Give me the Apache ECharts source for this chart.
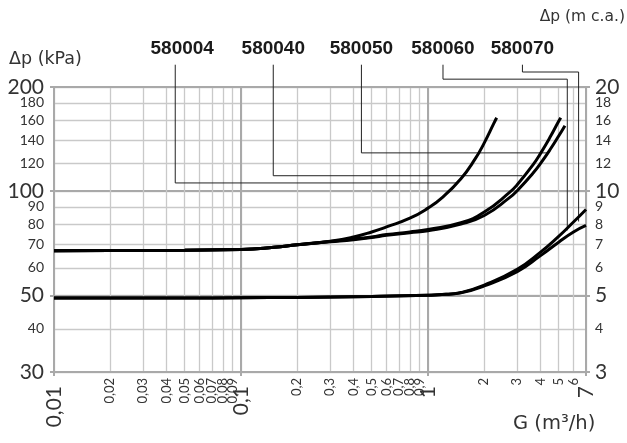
<!DOCTYPE html>
<html>
<head>
<meta charset="utf-8">
<script src="https://cdn.jsdelivr.net/npm/echarts@6/dist/echarts.min.js"></script>
<style>
html,body{margin:0;padding:0;background:#fff;}
#chart{width:627px;height:443px;}
</style>
</head>
<body>
<div id="chart"></div>
<script>
// ---- tick definitions ----
const xTickValues = [0.01,0.02,0.03,0.04,0.05,0.06,0.07,0.08,0.09,0.1,0.2,0.3,0.4,0.5,0.6,0.7,0.8,0.9,1,2,3,4,5,6,7];
const xTickLabels = ['0,01','0,02','0,03','0,04','0,05','0,06','0,07','0,08','0,09','0,1','0,2','0,3','0,4','0,5','0,6','0,7','0,8','0,9','1','2','3','4','5','6','7'];
const xMajorTicks = [0.01,0.1,1,7];
const yLeftTickValues = [30,40,50,60,70,80,90,100,120,140,160,180,200];
const yLeftMajorTicks = [30,50,100,200];
const yRightTickValues = [3,4,5,6,7,8,9,10,12,14,16,18,20];
const yRightMajorTicks = [3,5,10,20];

// ---- curves (G m3/h, dp kPa) ----
const g580004 = [0.01,0.02,0.05,0.1,0.15,0.2,0.3,0.4,0.5,0.6,0.8,1.0,1.2,1.5,1.78,2.0,2.25,2.33];
const p580004 = [67.2,67.3,67.5,67.8,68.8,70,71.6,73.7,76.2,78.8,83.5,89.3,96.1,108.6,123.5,137.9,157,163];

const g580040 = [0.01,0.02,0.05,0.1,0.15,0.2,0.3,0.4,0.5,0.6,0.8,1.0,1.5,2,2.74,3,3.65,4,4.5,5,5.13];
const p580040 = [67.2,67.3,67.5,67.8,68.8,70,71.5,72.7,73.7,74.9,76.2,77.5,81,87,99.3,104.4,119.3,128.6,143.3,159.2,163];

const g580050 = [0.01,0.02,0.05,0.1,0.15,0.2,0.3,0.4,0.5,0.6,0.8,1.0,1.5,2,2.74,3,3.65,4,4.5,5,5.4];
const p580050 = [67.2,67.3,67.5,67.8,68.8,70,71.4,72.4,73.4,74.5,75.8,76.8,80.3,85,95.9,100.3,112.8,120.3,131.9,144.3,154.6];

const g580060 = [0.01,0.05,0.1,0.2,0.5,1,1.25,1.5,2,3,4,5,6,7];
const p580060 = [49.1,49.1,49.2,49.3,49.6,50,50.3,50.9,53.5,59.4,66.6,74,81.4,88.5];

const g580070 = [0.01,0.05,0.1,0.2,0.5,1,1.25,1.5,2,3,4,5,6,7];
const p580070 = [49.1,49.1,49.2,49.3,49.6,50,50.3,50.8,53.2,58.5,65.1,71.2,76.2,79.6];

// ---- leader lines (data space) ----
const leader580004 = [[0.0445,232],[0.0445,105.6],[1.42,105.6]];
const leader580040 = [[0.1488,232],[0.1488,110.8],[3.2,110.8]];
const leader580050 = [[0.4406,232],[0.4406,129],[4.43,129]];
const leader580060 = [[1.203,232],[1.203,210.7],[5.56,210.7],[5.56,77]];
const leader580070 = [[3.2,232],[3.2,221],[6.39,221],[6.39,81.7]];

const FONT = 'Lato';
const TFONT = 'DejaVu Sans';
const TXT = '#333';
const GRID_THIN = '#c9c9c9';
const GRID_THICK = '#a9a9a9';

function findIdx(vals, v){
  let best = 0, bd = Infinity;
  for (let i = 0; i < vals.length; i++) {
    const d = Math.abs(Math.log(v / vals[i]));
    if (d < bd) { bd = d; best = i; }
  }
  return best;
}
function isMajor(list, v){ return list.some(m => Math.abs(Math.log(v/m)) < 1e-5); }
// keep end ticks inside the floating-point axis extent
function inside(vals, min, max){ return vals.map(v => Math.min(Math.max(v, min*(1+1e-9)), max*(1-1e-9))); }
function minorOf(vals, majors){ return vals.filter(v => !isMajor(majors, v)); }
function fmt(vals, labels){
  return function(v){ const i = findIdx(vals, v); return labels ? labels[i] : String(vals[i]); };
}

function curve(name, g, p){
  return {
    name: name, type: 'line', xAxisIndex: 0, yAxisIndex: 0,
    data: g.map((x, i) => [x, p[i]]),
    showSymbol: false, smooth: 0.5,
    lineStyle: {color: '#000', width: 3}, z: 5, silent: true
  };
}
function leader(name, pts, off){
  return {
    name: name + ' leader', type: 'line', xAxisIndex: 0, yAxisIndex: 0,
    clip: false, silent: true, symbol: 'circle', symbolSize: 1, showSymbol: true,
    itemStyle: {color: 'rgba(0,0,0,0)'},
    lineStyle: {color: '#222', width: 1}, z: 4,
    data: pts.map((pt, i) => i === 0 ? {
      value: pt,
      label: {show: true, position: 'top', distance: 6, offset: off || [0,0],
        formatter: name, fontFamily: 'Liberation Sans', fontWeight: 'bold',
        fontSize: 19, color: '#1a1a1a', opacity: 1}
    } : {value: pt})
  };
}
const labelCommon = {hideOverlap: false, showMinLabel: true, showMaxLabel: true, color: TXT, fontFamily: FONT};

const chart = echarts.init(document.getElementById('chart'), null, {renderer: 'canvas'});
const option = {
  animation: false,
  backgroundColor: '#fff',
  textStyle: {fontFamily: FONT},
  title: [
    {text: 'Δp (kPa)', left: 9, top: 50, padding: 0, textStyle: {fontFamily: TFONT, fontSize: 17.5, fontWeight: 'normal', color: TXT}},
    {text: 'Δp (m c.a.)', right: 2, top: 9, padding: 0, textStyle: {fontFamily: TFONT, fontSize: 15.5, fontWeight: 'normal', color: TXT}},
    {text: 'G (m³/h)', left: 513, top: 414, padding: 0, textStyle: {fontFamily: TFONT, fontSize: 19.5, fontWeight: 'normal', color: TXT}}
  ],
  grid: {left: 54, right: 41, top: 87, bottom: 71, containLabel: false},
  xAxis: [
    { // thin grid + small labels
      type: 'log', logBase: 10, min: 0.01, max: 7, position: 'bottom',
      axisLine: {show: true, lineStyle: {color: GRID_THICK, width: 2}},
      axisTick: {show: false, customValues: inside(xTickValues, 0.01, 7)},
      splitLine: {show: true, showMinLine: true, showMaxLine: true, lineStyle: {color: GRID_THIN, width: 1.3}},
      axisLabel: Object.assign({}, labelCommon, {
        customValues: minorOf(xTickValues, xMajorTicks), rotate: 90, margin: 6, fontSize: 13,
        formatter: fmt(xTickValues, xTickLabels)
      })
    },
    { // thick grid + big labels
      type: 'log', logBase: 10, min: 0.01, max: 7, position: 'bottom',
      axisLine: {show: false},
      axisTick: {show: true, customValues: inside(xMajorTicks, 0.01, 7), length: 4, lineStyle: {color: GRID_THICK, width: 2}},
      splitLine: {show: true, showMinLine: true, showMaxLine: true, lineStyle: {color: GRID_THICK, width: 2}},
      axisLabel: Object.assign({}, labelCommon, {
        customValues: inside(xMajorTicks, 0.01, 7), rotate: 90, margin: 14, fontSize: 21,
        formatter: fmt(xTickValues, xTickLabels)
      })
    },
    { // top border
      type: 'log', logBase: 10, min: 0.01, max: 7, position: 'top',
      axisLine: {show: true, lineStyle: {color: GRID_THICK, width: 2}},
      axisTick: {show: false}, axisLabel: {show: false}, splitLine: {show: false}
    }
  ],
  yAxis: [
    { // left: thin grid + small labels
      type: 'log', logBase: 10, min: 30, max: 200, position: 'left',
      axisLine: {show: true, lineStyle: {color: GRID_THICK, width: 2}},
      axisTick: {show: false, customValues: inside(yLeftTickValues, 30, 200)},
      splitLine: {show: true, showMinLine: true, showMaxLine: true, lineStyle: {color: GRID_THIN, width: 1.3}},
      axisLabel: Object.assign({}, labelCommon, {
        customValues: minorOf(yLeftTickValues, yLeftMajorTicks), margin: 10, fontSize: 14,
        formatter: fmt(yLeftTickValues)
      })
    },
    { // right: small labels
      type: 'log', logBase: 10, min: 3, max: 20, position: 'right',
      axisLine: {show: true, lineStyle: {color: GRID_THICK, width: 2}},
      axisTick: {show: false}, splitLine: {show: false},
      axisLabel: Object.assign({}, labelCommon, {
        customValues: minorOf(yRightTickValues, yRightMajorTicks), margin: 9, fontSize: 14,
        formatter: fmt(yRightTickValues)
      })
    },
    { // left: thick grid + big labels
      type: 'log', logBase: 10, min: 30, max: 200, position: 'left',
      axisLine: {show: false},
      axisTick: {show: true, customValues: inside(yLeftMajorTicks, 30, 200), length: 4, lineStyle: {color: GRID_THICK, width: 2}},
      splitLine: {show: true, showMinLine: true, showMaxLine: true, lineStyle: {color: GRID_THICK, width: 2}},
      axisLabel: Object.assign({}, labelCommon, {
        customValues: inside(yLeftMajorTicks, 30, 200), margin: 10, fontSize: 21,
        formatter: fmt(yLeftTickValues)
      })
    },
    { // right: big labels
      type: 'log', logBase: 10, min: 3, max: 20, position: 'right',
      axisLine: {show: false},
      axisTick: {show: true, customValues: inside(yRightMajorTicks, 3, 20), length: 4, lineStyle: {color: GRID_THICK, width: 2}},
      splitLine: {show: false},
      axisLabel: Object.assign({}, labelCommon, {
        customValues: inside(yRightMajorTicks, 3, 20), margin: 9, fontSize: 21,
        formatter: fmt(yRightTickValues)
      })
    }
  ],
  series: [
    curve('580004', g580004, p580004),
    curve('580040', g580040, p580040),
    curve('580050', g580050, p580050),
    curve('580060', g580060, p580060),
    curve('580070', g580070, p580070),
    leader('580004', leader580004, [7, 0]),
    leader('580040', leader580040),
    leader('580050', leader580050),
    leader('580060', leader580060),
    leader('580070', leader580070)
  ]
};
chart.setOption(option);
</script>
</body>
</html>
